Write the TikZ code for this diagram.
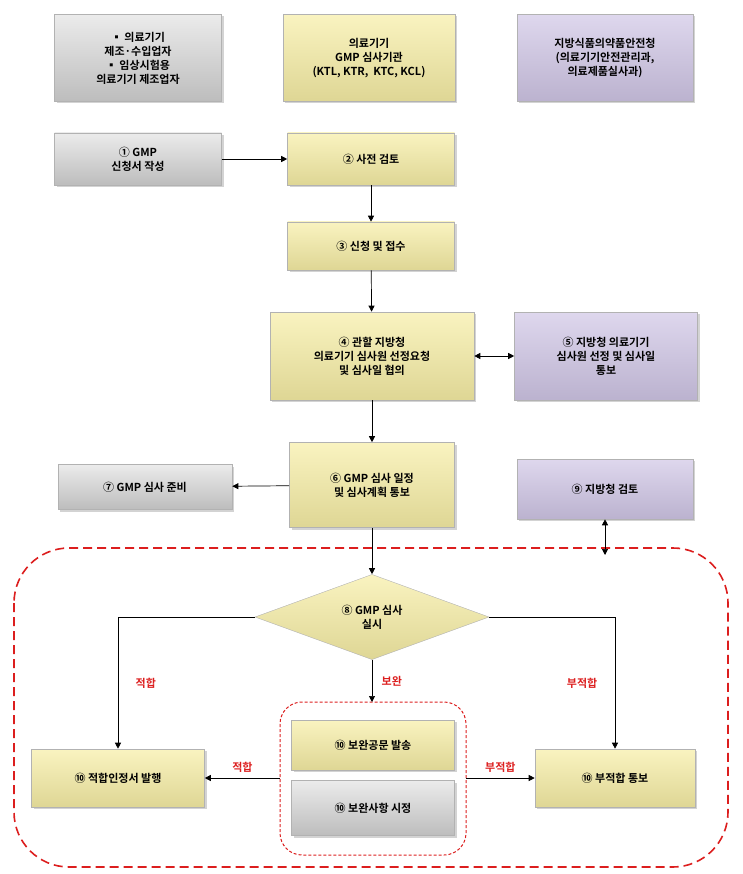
\documentclass[tikz,border=0pt]{standalone}
\usepackage{fontspec}
\setmainfont{Noto Sans CJK KR}[BoldFont={* Bold}]
\usetikzlibrary{arrows.meta,positioning,shapes.geometric,shadows}
\definecolor{boxyellow}{RGB}{247,238,165}
\definecolor{boxgray}{RGB}{222,222,222}
\definecolor{boxpurple}{RGB}{208,198,230}
\definecolor{lblred}{RGB}{220,30,30}
\tikzset{
    % bevelled boxes
    box/.style={rectangle,draw=white!70!black,line width=0.6pt,align=center,
        font=\bfseries\fontsize{11}{14}\selectfont,drop shadow={opacity=0.35,shadow xshift=2pt,shadow yshift=-2pt}},
    ybox/.style={box,top color=boxyellow!70!white,bottom color=boxyellow!90!black},
    gbox/.style={box,top color=boxgray!60!white,bottom color=boxgray!85!black},
    pbox/.style={box,top color=boxpurple!70!white,bottom color=boxpurple!90!black},
    % connectors
    flow/.style={-{Triangle[length=6pt,width=6pt]},line width=0.7pt},
    lbl/.style={text=lblred,font=\bfseries\fontsize{11}{13}\selectfont}
}
\begin{document}
\begin{tikzpicture}[x=1pt,y=-1pt]
    \useasboundingbox (0,0) rectangle (743,874);

    % headers
    \node[gbox,minimum width=167pt,minimum height=87pt] (maker) at (138,58) {▪ 의료기기\\제조·수입업자\\▪ 임상시험용\\의료기기 제조업자};
    \node[ybox,minimum width=172pt,minimum height=87pt] (agency) at (369,58) {의료기기\\GMP 심사기관\\(KTL, KTR,\ \ KTC, KCL)};
    \node[pbox,minimum width=176pt,minimum height=87pt] (kfda) at (605,58) {지방식품의약품안전청\\(의료기기안전관리과,\\의료제품실사과)};

    % main flow
    \node[gbox,minimum width=167pt,minimum height=52pt] (apply) at (138,159) {① GMP\\신청서 작성};
    \node[ybox,minimum width=167pt,minimum height=52pt] (prerev) at (371,159) {② 사전 검토};
    \node[ybox,minimum width=167pt,minimum height=48pt] (receipt) at (371,246) {③ 신청 및 접수};
    \node[ybox,minimum width=204pt,minimum height=88pt] (request) at (372,356) {④ 관할 지방청\\의료기기 심사원 선정요청\\및 심사일 협의};
    \node[pbox,minimum width=183pt,minimum height=88pt] (select) at (606,356) {⑤ 지방청 의료기기\\심사원 선정 및 심사일\\통보};
    \node[ybox,minimum width=165pt,minimum height=85pt] (notify) at (372,485) {⑥ GMP 심사 일정\\및 심사계획 통보};
    \node[gbox,minimum width=174pt,minimum height=45pt] (prep) at (145,487) {⑦ GMP 심사 준비};
    \node[pbox,minimum width=176pt,minimum height=60pt] (review) at (605,489) {⑨ 지방청 검토};

    % audit region
    \draw[lblred,line width=1.6pt,dash pattern=on 9pt off 5pt,rounded corners=55pt] (14,548) rectangle (728,867);
    \node[diamond,minimum width=234pt,minimum height=85pt,inner sep=0pt,align=center,
        top color=boxyellow!70!white,bottom color=boxyellow!90!black,draw=white!70!black,
        font=\bfseries\fontsize{11}{14}\selectfont] (audit) at (372,617) {⑧ GMP 심사\\실시};
    \node[ybox,minimum width=173pt,minimum height=58pt] (pass) at (118,778) {⑩ 적합인정서 발행};
    \node[ybox,minimum width=160pt,minimum height=58pt] (fail) at (615,778) {⑩ 부적합 통보};
    \node[ybox,minimum width=163pt,minimum height=50pt] (supp) at (373,745) {⑩ 보완공문 발송};
    \node[gbox,minimum width=163pt,minimum height=55pt] (fix) at (373,808) {⑩ 보완사항 시정};
    \draw[lblred,line width=1pt,dash pattern=on 3pt off 2pt,rounded corners=22pt] (280,702) rectangle (466,855);
    \coordinate (grpL) at (280,778);
    \coordinate (grpR) at (466,778);
    \coordinate (grpT) at (372,702);
    \coordinate (regionT) at (605,555);

    % connectors
    \draw[flow] (apply) -- (prerev);
    \draw[flow] (prerev) -- (receipt);
    \draw[flow] (receipt) -- (request);
    \draw[{Triangle[length=6pt,width=6pt]}-{Triangle[length=6pt,width=6pt]},line width=0.7pt] (request) -- (select);
    \draw[flow] (request) -- (notify);
    \draw[flow] (notify) -- (prep);
    \draw[flow] (notify) -- (audit);
    \draw[{Triangle[length=6pt,width=6pt]}-{Triangle[length=6pt,width=6pt]},line width=0.7pt] (review) -- (regionT);
    \draw[flow] (audit.west) -| (pass.north) node[lbl,pos=0.75,right=14pt] {적합};
    \draw[flow] (audit.east) -| (fail.north) node[lbl,pos=0.75,left=14pt] {부적합};
    \draw[flow] (audit) -- (grpT) node[lbl,midway,right=6pt] {보완};
    \draw[flow] (grpL) -- (pass) node[lbl,midway,above=2pt] {적합};
    \draw[flow] (grpR) -- (fail) node[lbl,midway,above=2pt] {부적합};
\end{tikzpicture}
\end{document}
